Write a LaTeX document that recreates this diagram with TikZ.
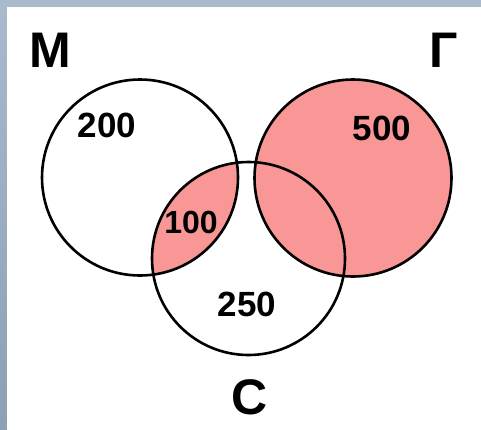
\documentclass[tikz,border=0pt]{standalone}
\usepackage{fontspec}
\setmainfont{Liberation Sans}
\begin{document}
\begin{tikzpicture}[x=1pt,y=-1pt,
  ring/.style={draw=black,line width=2.6pt},
  setfill/.style={fill=vpink},
  setname/.style={font=\bfseries\fontsize{50}{50}\selectfont},
  count/.style={font=\bfseries\fontsize{35}{35}\selectfont},
  ]
\definecolor{vpink}{RGB}{249,150,150}
\definecolor{frameblue}{RGB}{168,186,204}
\definecolor{framedark}{RGB}{140,160,182}
\useasboundingbox (0,0) rectangle (481,429);
\fill[frameblue] (0,0) rectangle (481,429);
\shade[top color=frameblue,bottom color=framedark] (0,0) rectangle (7,429);
\fill[white] (7,7) rectangle (481,429);
% shading
\fill[setfill] (353,178) circle (98.5);
\begin{scope}
  \clip (140,177.5) circle (98);
  \fill[setfill] (248.5,258.5) circle (96.5);
\end{scope}
% circles
\draw[ring] (140,177.5) circle (98);
\draw[ring] (353,178) circle (98.5);
\draw[ring] (248.5,258.5) circle (96.5);
% labels
\node[setname] (M) at (50,50) {М};
\node[setname] (G) at (444,50) {Г};
\node[setname] (C) at (250,397) {С};
\node[count] (n200) at (107,125) {200};
\node[count] (n500) at (382,128) {500};
\node[count,font=\bfseries\fontsize{32}{32}\selectfont] (n100) at (191,222) {100};
\node[count] (n250) at (247,304) {250};
\end{tikzpicture}
\end{document}
